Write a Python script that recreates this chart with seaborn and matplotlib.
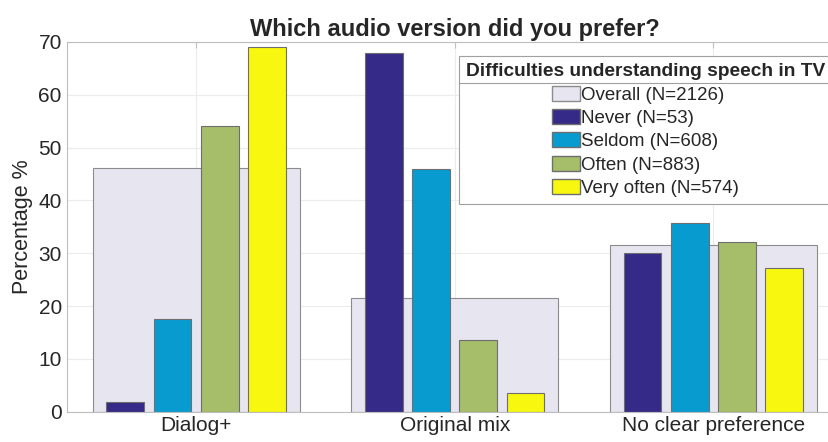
import seaborn as sns
import pandas as pd
import matplotlib.pyplot as plt
from matplotlib.patches import Patch

# Dados
categorias = ["Dialog+", "Original mix", "No clear preference"]
overall = [46.1, 21.5, 31.6]
never = [1.9, 67.9, 30.1]
seldom = [17.6, 45.9, 35.7]
often = [54.0, 13.6, 32.2]
very_often = [69.0, 3.6, 27.2]

grupos = ["Never (N=53)", "Seldom (N=608)", "Often (N=883)", "Very often (N=574)"]
label_overall = "Overall (N=2126)"
cores = ["#352A87", "#079BD0", "#A6BD6A", "#F7F70F"]
cor_overall = "#E7E5F0"

df_overall = pd.DataFrame({"pref": categorias, "pct": overall})
df_grupos = pd.DataFrame({
    "pref": categorias * 4,
    "pct": never + seldom + often + very_often,
    "grupo": [g for g in grupos for _ in categorias],
})

sns.set_style("white")
plt.rcParams["font.family"] = ["Liberation Sans", "DejaVu Sans"]

fig = plt.figure(figsize=(8.29, 4.42), dpi=100)
ax = fig.add_axes([0.0805, 0.0686, 0.936, 0.8364])

sns.barplot(data=df_overall, x="pref", y="pct", color=cor_overall, width=0.8,
            edgecolor="#8c8c8c", linewidth=0.8, saturation=1, ax=ax)
sns.barplot(data=df_grupos, x="pref", y="pct", hue="grupo", hue_order=grupos,
            palette=cores, width=0.73, gap=0.2, edgecolor="#6e6e6e", linewidth=0.8,
            saturation=1, legend=False, ax=ax)

ax.set_xlim(-0.5, 2.5)
ax.set_ylim(0, 70)
ax.set_yticks(range(0, 71, 10))
ax.set_xlabel("")
ax.set_ylabel("Percentage %", fontsize=15.5, color="#262626", labelpad=4)
ax.set_title("Which audio version did you prefer?", fontsize=17, fontweight="bold", pad=4)
ax.tick_params(axis="both", labelsize=15, colors="#262626", direction="in",
               length=4, top=True, right=True)
ax.tick_params(axis="both", color="#c0c0c0")
ax.tick_params(axis="x", pad=3)
ax.grid(True, color="#ececec", linewidth=0.8)
ax.set_axisbelow(True)
for s in ax.spines.values():
    s.set_color("#bdbdbd")
    s.set_linewidth(0.8)

handles = [Patch(facecolor=cor_overall, edgecolor="#8c8c8c", label=label_overall)]
handles += [Patch(facecolor=c, edgecolor="#6e6e6e", label=g) for c, g in zip(cores, grupos)]
esp = 0.29
leg = ax.legend(handles=handles, loc="upper left", bbox_to_anchor=(0.5055, 0.962),
                title="Difficulties understanding speech in TV", fontsize=13.5,
                title_fontproperties={"weight": "bold", "size": 13.8},
                fancybox=False, framealpha=1, edgecolor="#a0a0a0",
                handlelength=1.48, handleheight=0.85, handletextpad=0.05,
                labelspacing=esp, borderaxespad=0, borderpad=0.38)
leg.set_alignment("center")
leg.get_frame().set_linewidth(0.8)

# linha separando o título da legenda
fig.canvas.draw()
r = fig.canvas.get_renderer()
bb_leg = leg.get_window_extent(r)
bb_tit = leg.get_title().get_window_extent(r)
y_sep = bb_tit.y0 - esp * 13.5 * 100 / 72 / 2
inv = fig.transFigure.inverted()
(x0, y0), (x1, _) = inv.transform([(bb_leg.x0, y_sep), (bb_leg.x1, y_sep)])
fig.add_artist(plt.Line2D([x0, x1], [y0, y0], color="#a0a0a0", linewidth=0.8,
                          transform=fig.transFigure))

fig.savefig("out.png", dpi=100)
